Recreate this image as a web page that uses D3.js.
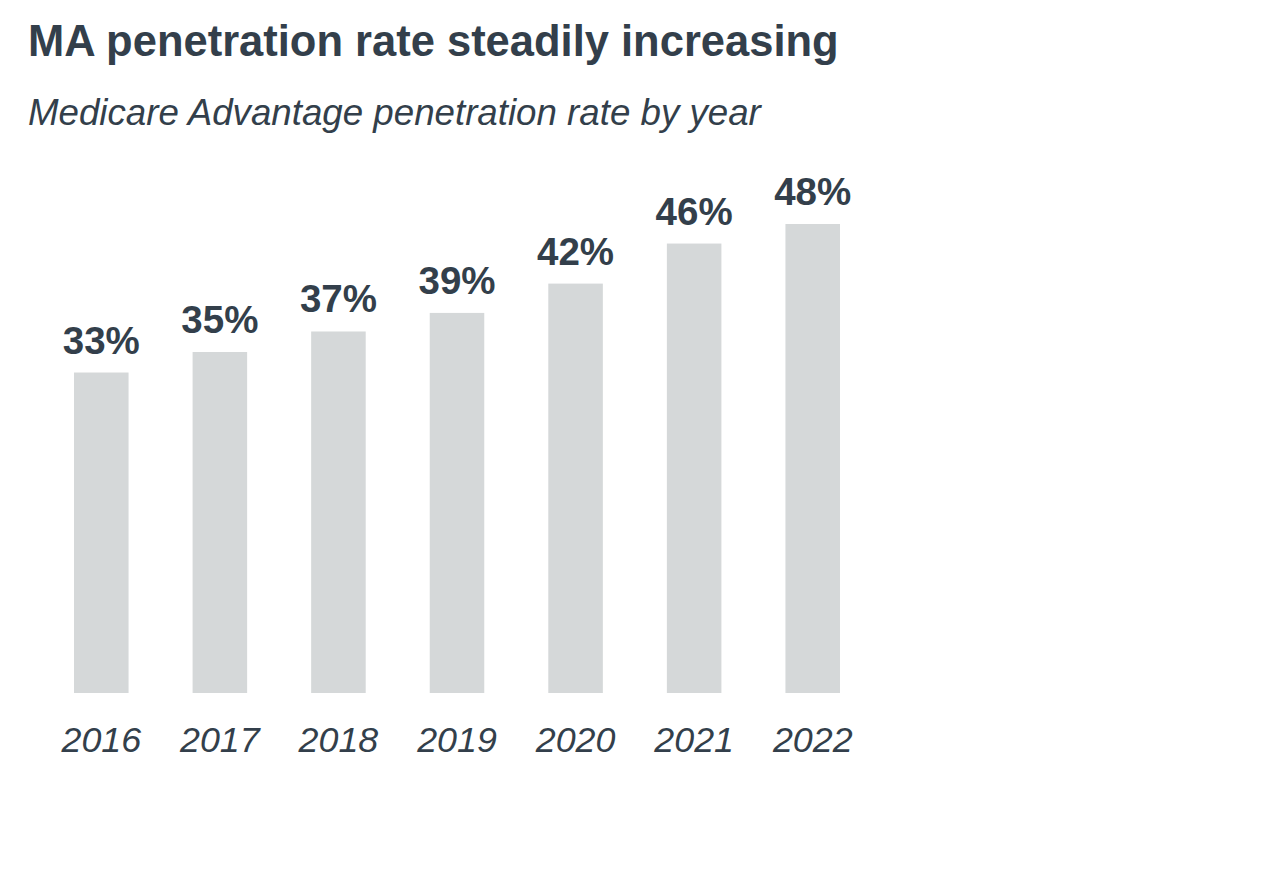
<!DOCTYPE html>
<html><head><meta charset="utf-8">
<script src="https://cdn.jsdelivr.net/npm/d3@7"></script>
<style>body{margin:0;background:#fff;}svg{display:block;}</style>
</head><body>
<script>
const years = ["2016","2017","2018","2019","2020","2021","2022"];
const values = [32.8, 34.9, 37.0, 38.9, 41.9, 46.0, 48.0];
const labels = ["33%","35%","37%","39%","42%","46%","48%"];
const title = "MA penetration rate steadily increasing";
const subtitle = "Medicare Advantage penetration rate by year";

const W = 1280, H = 889;
const textColor = "#333f4b";
const barColor = "#d5d8d9";
const svg = d3.select("body").append("svg").attr("width", W).attr("height", H);

svg.append("text").attr("x", 28).attr("y", 56)
  .attr("font-family", "Liberation Sans, Arial, sans-serif")
  .attr("font-weight", "bold").attr("font-size", 43.5)
  .attr("fill", textColor).text(title);
svg.append("text").attr("x", 28).attr("y", 125)
  .attr("font-family", "Liberation Sans, Arial, sans-serif")
  .attr("font-style", "italic").attr("font-size", 36.7)
  .attr("fill", textColor).text(subtitle);

const x = d3.scaleBand().domain(years).range([42, 872]).paddingInner(0.54).paddingOuter(0.27);
const y = d3.scaleLinear().domain([0, 48]).range([693, 224]);

svg.selectAll("rect.bar").data(years).join("rect")
  .attr("class", "bar")
  .attr("x", d => x(d)).attr("width", x.bandwidth())
  .attr("y", (d, i) => y(values[i]))
  .attr("height", (d, i) => y(0) - y(values[i]))
  .attr("fill", barColor);

svg.selectAll("text.val").data(years).join("text")
  .attr("class", "val")
  .attr("x", d => x(d) + x.bandwidth() / 2)
  .attr("y", (d, i) => y(values[i]) - 19)
  .attr("text-anchor", "middle")
  .attr("font-family", "Liberation Sans, Arial, sans-serif")
  .attr("font-weight", "bold").attr("font-size", 38.5)
  .attr("fill", textColor)
  .text((d, i) => labels[i]);

const axis = d3.axisBottom(x).tickSize(0).tickPadding(0);
const g = svg.append("g").attr("transform", "translate(0,752)").call(axis);
g.select(".domain").remove();
g.selectAll("text")
  .attr("dy", 0).attr("y", 0)
  .attr("font-family", "Liberation Sans, Arial, sans-serif")
  .attr("font-style", "italic").attr("font-size", 35.8)
  .attr("fill", textColor);
</script>
</body></html>
